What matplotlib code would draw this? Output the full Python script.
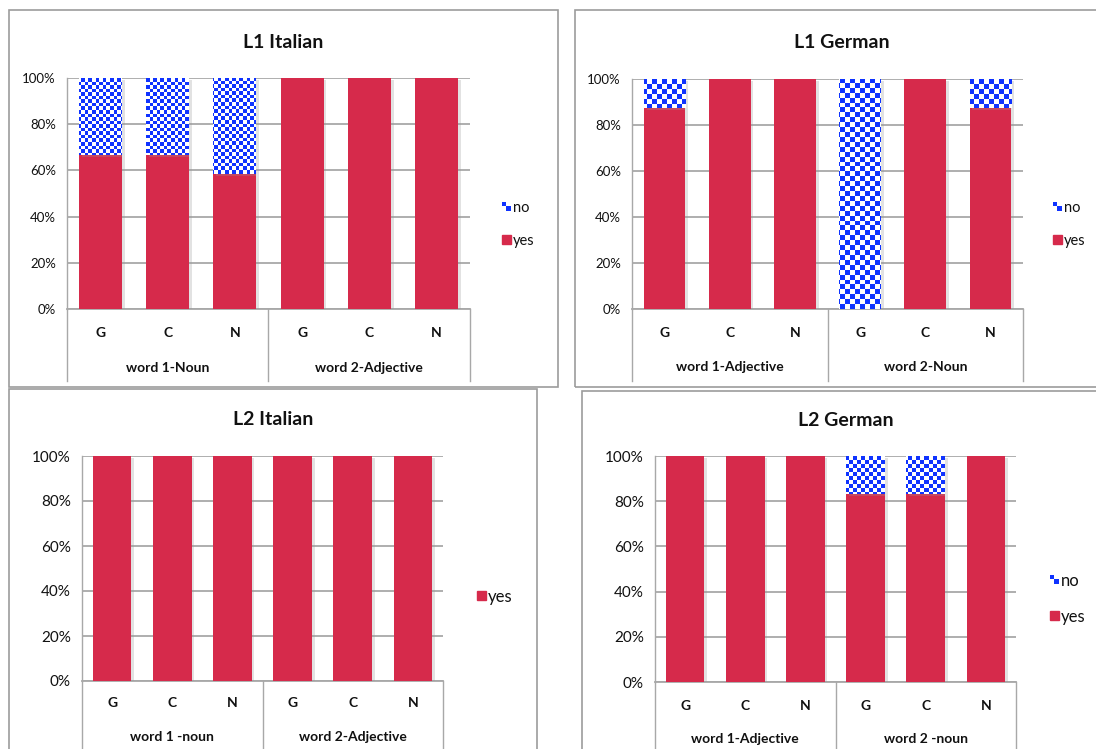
import numpy as np
import matplotlib
matplotlib.use("Agg")
import matplotlib.pyplot as plt
from matplotlib.patches import Rectangle
from matplotlib import patheffects as pe

plt.rcParams['font.family'] = ['Lato', 'DejaVu Sans']

# ---------------------------------------------------------------
# data: percentage of "yes" answers per condition (rest is "no")
# ---------------------------------------------------------------
conditions = ["G", "C", "N", "G", "C", "N"]

l1_italian_groups = ["word 1-Noun", "word 2-Adjective"]
l1_italian_yes = [66.7, 66.7, 58.3, 100, 100, 100]

l1_german_groups = ["word 1-Adjective", "word 2-Noun"]
l1_german_yes = [87.5, 100, 100, 0, 100, 87.5]

l2_italian_groups = ["word 1 -noun", "word 2-Adjective"]
l2_italian_yes = [100, 100, 100, 100, 100, 100]

l2_german_groups = ["word 1-Adjective", "word 2 -noun"]
l2_german_yes = [100, 100, 100, 83.3, 83.3, 100]

yticks = [0, 20, 40, 60, 80, 100]

RED = "#d62a4b"
BLUE = "#0f33ff"
GRID = "#a8a8a8"
TXT = "#111111"

W, H = 1096, 749
fig = plt.figure(figsize=(W / 100, H / 100), dpi=100)
fig.patch.set_facecolor("white")


def fx(x):
    return x / W


def fy(y):
    return 1 - y / H


def panel_box(x0, y0, x1, y1):
    fig.add_artist(Rectangle((fx(x0), fy(y1)), fx(x1) - fx(x0), fy(y0) - fy(y1),
                             transform=fig.transFigure, fill=False,
                             edgecolor="#9c9c9c", lw=1.2, clip_on=False))


def checker(n_rows, n_cols):
    r, c = np.indices((n_rows, n_cols))
    img = np.ones((n_rows, n_cols, 3))
    img[(r + c) % 2 == 0] = matplotlib.colors.to_rgb(BLUE)
    return img


def draw_panel(box, title, title_xy, yes, groups, tick_fs, cat_fs, leg, leg_fs,
               sq, cat_dy, grp_dy, sep_dy):
    x0, y0, x1, y1 = box
    ax = fig.add_axes([fx(x0), fy(y1), fx(x1) - fx(x0), fy(y0) - fy(y1)])
    hpx = y1 - y0
    wpx = x1 - x0

    yes = np.array(yes, dtype=float)
    no = 100 - yes
    x = np.arange(len(yes))
    shadow = [pe.SimplePatchShadow(offset=(2, -1.5), shadow_rgbFace="#999999",
                                   alpha=0.28), pe.Normal()]

    ax.bar(x, yes, width=0.64, color=RED, zorder=3, path_effects=shadow)
    no_bars = ax.bar(x, no, bottom=yes, width=0.64, color="white", zorder=3,
                     path_effects=shadow)

    # checkerboard fill for the "no" segments
    pattern = checker(int(hpx / sq) + 1, int(wpx / sq) + 1)
    for b, v in zip(no_bars, no):
        if v <= 0:
            continue
        im = ax.imshow(pattern, extent=(-0.5, 5.5, 0, 100), aspect="auto",
                       interpolation="nearest", zorder=4, origin="upper")
        im.set_clip_path(b)

    ax.set_xlim(-0.5, 5.5)
    ax.set_ylim(0, 100)
    ax.set_yticks(yticks)
    ax.set_yticklabels([f"{t}%" for t in yticks], fontsize=tick_fs, color=TXT)
    ax.tick_params(axis="y", length=0, pad=8)
    ax.set_xticks([])
    ax.yaxis.grid(True, color=GRID, lw=1.3, zorder=0)
    ax.set_axisbelow(True)
    for s in ["top", "right"]:
        ax.spines[s].set_visible(False)
    ax.spines["left"].set_color(GRID)
    ax.spines["bottom"].set_color(GRID)
    ax.spines["left"].set_linewidth(1.0)
    ax.spines["bottom"].set_linewidth(1.3)

    # two-level category axis
    tr = ax.get_xaxis_transform()
    for xi, lab in zip(x, conditions):
        ax.text(xi, -cat_dy / hpx, lab, transform=tr, ha="center", va="center",
                fontsize=cat_fs, fontweight="bold", color=TXT)
    for gi, lab in enumerate(groups):
        ax.text(1 + 3 * gi, -grp_dy / hpx, lab, transform=tr, ha="center",
                va="center", fontsize=cat_fs, fontweight="bold", color=TXT)
    for xs in [-0.5, 2.5, 5.5]:
        ax.plot([xs, xs], [0, -sep_dy / hpx], transform=tr, color=GRID, lw=1.0,
                clip_on=False)

    fig.text(fx(title_xy[0]), fy(title_xy[1]), title, ha="center", va="center",
             fontsize=14, fontweight="bold", color=TXT)

    # legend
    for mx, my, name in leg:
        if name == "yes":
            fig.add_artist(Rectangle((fx(mx), fy(my + 4)), 9 / W, 9 / H,
                                     transform=fig.transFigure, color=RED))
        else:
            lax = fig.add_axes([fx(mx), fy(my + 4), 9 / W, 9 / H])
            lax.imshow(checker(2, 2), interpolation="nearest", aspect="auto")
            lax.axis("off")
        fig.text(fx(mx + 11), fy(my + 1), name, ha="left", va="center",
                 fontsize=leg_fs, color=TXT)
    return ax


panel_box(9, 10, 558, 387)
panel_box(575, 10, 1100, 387)
panel_box(9, 389, 537, 760)
panel_box(582, 391, 1110, 760)

draw_panel((67, 78, 470, 309), "L1 Italian", (283, 43), l1_italian_yes,
           l1_italian_groups, 9.5, 10, [(502, 207, "no"), (502, 240, "yes")], 10.5,
           3.6, 24, 59, 72)
draw_panel((632, 79, 1023, 309), "L1 German", (842, 43), l1_german_yes,
           l1_german_groups, 9.5, 10, [(1053, 207, "no"), (1053, 240, "yes")], 10.5,
           5.0, 24, 58, 72)
draw_panel((82, 456, 443, 681), "L2 Italian", (273, 420), l2_italian_yes,
           l2_italian_groups, 11, 10, [(477, 596, "yes")], 12,
           4.0, 22, 56, 70)
draw_panel((655, 456, 1016, 682), "L2 German", (846, 421), l2_german_yes,
           l2_german_groups, 11, 10, [(1050, 580, "no"), (1050, 616, "yes")], 12,
           4.0, 24, 57, 70)

fig.savefig("out.png", dpi=100, facecolor="white")
